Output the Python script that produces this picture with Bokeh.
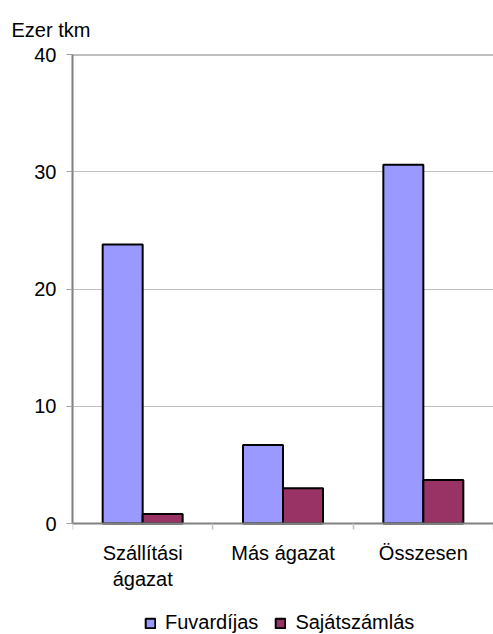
from bokeh.plotting import figure
from bokeh.models import Range1d, FixedTicker, Legend, LegendItem, Span, ColumnDataSource
from bokeh.embed import file_html
from bokeh.resources import INLINE

categories = ["Szállítási\nágazat", "Más ágazat", "Összesen"]
series_names = ["Fuvardíjas", "Sajátszámlás"]
fuvardijas = [23.8, 6.7, 30.6]
sajatszamlas = [0.8, 3.0, 3.7]
y_ticks = [0, 10, 20, 30, 40]
y_title = "Ezer tkm"

FONT = "Liberation Sans"
FS = "20px"
C1 = "#9999FF"
C2 = "#993366"
bw = 0.285

# layout: value axis spans 469 px; the frame continues below 0 to hold labels + legend
AXIS_PX = 469
FRAME_H = 580
y_min = -y_ticks[-1] * (FRAME_H - AXIS_PX) / AXIS_PX

centers = [i + 0.5 for i in range(len(categories))]
bounds = [float(i) for i in range(len(categories) + 1)]
src = ColumnDataSource(dict(
    x1=[c - bw / 2 for c in centers],
    x2=[c + bw / 2 for c in centers],
    f=fuvardijas, s=sajatszamlas))

p = figure(frame_width=421, frame_height=FRAME_H, x_range=Range1d(0, len(categories)),
           y_range=Range1d(y_min, y_ticks[-1]),
           output_backend="svg", toolbar_location=None,
           min_border_left=72, min_border_right=0, min_border_top=54,
           min_border_bottom=0)
p.outline_line_color = None
p.background_fill_color = "white"
p.border_fill_color = "white"

p.title.text = y_title
p.title.align = "left"
p.title.offset = -61
p.title.text_font = FONT
p.title.text_font_size = FS
p.title.text_font_style = "normal"
p.title.text_color = "black"
p.title.standoff = 28

r1 = p.vbar(x="x1", top="f", bottom=0, width=bw, source=src,
            fill_color=C1, line_color="black", line_width=2)
r2 = p.vbar(x="x2", top="s", bottom=0, width=bw, source=src,
            fill_color=C2, line_color="black", line_width=2)

p.add_layout(Span(location=y_ticks[-1], dimension="width",
                  line_color="#808080", line_width=2))

p.xgrid.visible = False
p.ygrid.ticker = FixedTicker(ticks=y_ticks)
p.ygrid.grid_line_color = "#C0C0C0"
p.ygrid.grid_line_width = 1

ya = p.yaxis[0]
ya.ticker = FixedTicker(ticks=y_ticks)
ya.bounds = (y_ticks[0], y_ticks[-1])
ya.axis_line_color = "#808080"
ya.axis_line_width = 2
ya.major_tick_line_color = "#A0A0A0"
ya.major_tick_out = 6
ya.major_tick_in = 0
ya.minor_tick_line_color = None
ya.major_label_standoff = 10
ya.major_label_text_font = FONT
ya.major_label_text_font_size = FS
ya.major_label_text_color = "black"

xa = p.xaxis[0]
xa.fixed_location = 0
xa.ticker = FixedTicker(ticks=centers, minor_ticks=bounds)
xa.major_label_overrides = {c: lab for c, lab in zip(centers, categories)}
xa.axis_line_color = "#808080"
xa.axis_line_width = 2
xa.major_tick_out = 0
xa.major_tick_in = 0
xa.minor_tick_out = 6
xa.minor_tick_in = 0
xa.minor_tick_line_color = "#C0C0C0"
xa.minor_tick_line_width = 1.5
xa.major_label_standoff = 12
xa.major_label_text_font = FONT
xa.major_label_text_font_size = FS
xa.major_label_text_color = "black"

legend = Legend(items=[LegendItem(label=series_names[0], renderers=[r1]),
                       LegendItem(label=series_names[1], renderers=[r2])],
                orientation="horizontal", location=(72, 0),
                border_line_color=None, background_fill_alpha=0,
                label_text_font=FONT, label_text_font_size=FS,
                label_text_color="black",
                glyph_width=12, glyph_height=12, label_standoff=9,
                spacing=16, padding=0, margin=0)
p.add_layout(legend, "center")

open("out.html", "w").write(file_html(p, INLINE))
